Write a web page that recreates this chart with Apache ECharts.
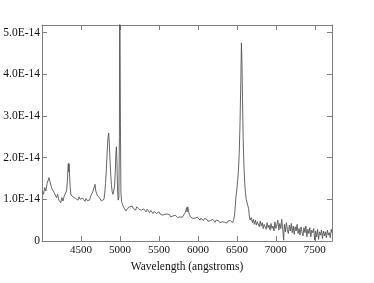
<!DOCTYPE html>
<html><head><meta charset="utf-8">
<script src="https://cdn.jsdelivr.net/npm/echarts@6/dist/echarts.min.js"></script>
<style>html,body{margin:0;padding:0;background:#fff}#c{width:374px;height:283px}</style>
</head><body><div id="c"></div>
<script>
// Wavelength (angstroms), segment by segment
const wavelengths = [
  4005,4020,4035,4050,4065,4080,4090,4100,4110,4125,4140,4155,4170,4185,4200,4215,4228,4240,4255,4270,4285,4300,
  4315,4325,4333,4338,4343,4348,4355,4362,4372,4385,
  4400,4415,4430,4445,4460,4475,4490,4505,4520,4535,4550,4565,4580,4595,4610,
  4625,4640,4655,4670,4680,4690,4700,4712,4725,4738,4750,4762,4775,4785,
  4795,4805,4815,4825,4835,4845,4855,4862,4870,4880,4890,4900,4910,4920,4930,4940,4948,4955,4962,4970,4978,4986,4993,4997,5001,5006,5012,
  5020,5035,5050,5065,5080,5095,5110,5125,5140,5155,5170,5185,5200,5215,5230,5245,5260,5275,5290,5305,5320,5335,5350,5365,5380,5395,5410,5425,5440,5455,5470,5485,5500,5515,5530,5545,5560,5575,5590,5605,5620,5635,5650,5665,5680,5695,5710,5725,5740,5755,5770,5785,5800,5815,5830,
  5845,5855,5862,5870,5878,
  5890,5905,5920,5935,5950,5965,5980,5995,6010,6025,6040,6055,6070,6085,6100,6115,6130,6145,6160,6175,6190,6205,6220,6235,6250,6265,6280,6295,6310,6325,6340,6355,6370,6385,6400,6415,6430,6445,6460,
  6470,6480,6490,6500,6510,6520,6530,6540,6550,6558,6565,6572,6580,6590,6600,6610,6620,6630,6640,6650,
  6660,6670,6685,6700,6712,6725,6738,6750,6763,6775,6788,6800,6813,6825,6838,6850,6863,6875,6888,6900,
  6913,6925,6938,6950,6963,6975,6988,7000,7013,7025,7038,7050,7063,7075,7088,7100,7110,7122,7135,7148,
  7160,7173,7185,7198,7210,7223,7235,7248,7260,7273,7285,7298,7310,7323,7335,7348,7360,7373,7385,7398,
  7410,7423,7435,7448,7460,7473,7485,7498,7510,7523,7535,7548,7560,7573,7585,7598,7610,7623,7635,7648,
  7660,7673,7685,7698,7710,7720
];
// Flux in units of 1e-14 (same segments)
const flux = [
  1.20,1.12,1.28,1.20,1.38,1.40,1.52,1.44,1.40,1.26,1.30,1.16,1.20,1.04,1.12,0.98,1.00,0.92,1.04,0.96,1.08,1.06,
  1.20,1.42,1.74,1.86,1.66,1.85,1.52,1.28,1.10,1.12,
  1.06,1.10,1.02,1.04,0.98,1.06,1.00,0.96,1.03,0.99,0.95,1.02,0.97,1.01,0.98,
  1.08,1.05,1.20,1.24,1.36,1.20,1.22,1.08,1.12,1.04,1.06,0.96,1.00,0.92,
  1.00,1.15,1.38,1.70,2.10,2.45,2.59,2.40,2.05,1.65,1.35,1.18,1.12,1.15,1.30,1.65,2.10,2.26,1.85,1.20,0.98,1.05,2.50,6.80,6.80,2.80,1.20,
  0.95,0.86,0.80,0.76,0.72,0.78,0.74,0.82,0.86,0.84,0.78,0.80,0.74,0.82,0.78,0.76,0.80,0.74,0.72,0.77,0.74,0.70,0.76,0.72,0.68,0.73,0.70,0.66,0.71,0.69,0.66,0.64,0.70,0.65,0.67,0.62,0.66,0.64,0.60,0.65,0.62,0.63,0.58,0.62,0.60,0.57,0.62,0.59,0.56,0.60,0.58,0.62,0.57,0.60,0.66,
  0.72,0.80,0.70,0.82,0.72,
  0.64,0.58,0.60,0.54,0.58,0.55,0.52,0.57,0.53,0.50,0.55,0.52,0.49,0.54,0.50,0.52,0.47,0.51,0.49,0.46,0.52,0.48,0.45,0.50,0.47,0.49,0.44,0.48,0.46,0.50,0.45,0.47,0.43,0.48,0.45,0.49,0.46,0.44,0.52,
  0.62,0.85,1.10,1.25,1.45,1.70,2.10,2.80,3.80,4.75,4.30,3.40,2.50,1.80,1.40,1.15,1.00,0.92,0.85,0.78,
  0.60,0.50,0.56,0.44,0.52,0.40,0.50,0.38,0.46,0.42,0.34,0.48,0.36,0.44,0.30,0.40,0.36,0.28,0.44,0.32,
  0.38,0.26,0.42,0.30,0.36,0.24,0.46,0.30,0.38,0.50,0.26,0.42,0.30,0.52,0.28,0.02,0.40,0.22,0.44,0.26,
  0.18,0.38,0.24,0.42,0.20,0.36,0.16,0.34,0.24,0.40,0.18,0.30,0.14,0.34,0.22,0.12,0.32,0.20,0.36,0.10,
  0.28,0.18,0.32,0.10,0.26,0.20,0.30,0.02,0.24,0.10,0.28,0.04,0.22,0.14,0.26,0.06,0.24,0.12,0.22,0.08,
  0.26,0.14,0.20,0.08,0.28,0.20
];
const xTicks = [4500,5000,5500,6000,6500,7000,7500];
const yTicks = [0,1,2,3,4,5];
const yTickLabels = ['0','1.0E-14','2.0E-14','3.0E-14','4.0E-14','5.0E-14'];

const FONT = 'Liberation Serif';
const frame = '#808080';
const n = Math.min(wavelengths.length, flux.length);
const data = [];
for (let i = 0; i < n; i++) data.push([wavelengths[i], flux[i]]);
const xMin = 4000, xMax = 7720, yMin = 0, yMax = 5.18;

function xAx(pos, showLabels){
  return {
    type:'value', position:pos, min:xMin, max:xMax,
    axisLine:{show:true, onZero:false, lineStyle:{color:frame, width:1}},
    axisTick:{show:true, inside:true, length:5, customValues:xTicks, lineStyle:{color:frame}},
    axisLabel:{show:showLabels, customValues:xTicks, color:'#111', fontFamily:FONT, fontSize:11, margin:4,
      formatter:(v)=>String(v)},
    splitLine:{show:false},
    name: showLabels ? 'Wavelength (angstroms)' : '',
    nameLocation:'middle', nameGap:17,
    nameTextStyle:{color:'#111', fontFamily:FONT, fontSize:11.5}
  };
}
function yAx(pos, showLabels){
  return {
    type:'value', position:pos, min:yMin, max:yMax,
    axisLine:{show:true, onZero:false, lineStyle:{color:frame, width:1}},
    axisTick:{show:true, inside:true, length:5, customValues:yTicks, lineStyle:{color:frame}},
    axisLabel:{show:showLabels, customValues:yTicks, color:'#111', fontFamily:FONT, fontSize:11.5, margin:2,
      formatter:(v)=>{const i=yTicks.indexOf(v); return i>=0?yTickLabels[i]:'';}},
    splitLine:{show:false}
  };
}

const chart = echarts.init(document.getElementById('c'), null, {renderer:'canvas'});
chart.setOption({
  animation:false,
  grid:{left:42, top:25, width:290, height:216, containLabel:false},
  xAxis:[xAx('bottom', true), xAx('top', false)],
  yAxis:[yAx('left', true), yAx('right', false)],
  series:[{
    type:'line', data:data, xAxisIndex:0, yAxisIndex:0,
    showSymbol:false, clip:true,
    lineStyle:{color:'#555555', width:0.9}
  }]
});
</script></body></html>
